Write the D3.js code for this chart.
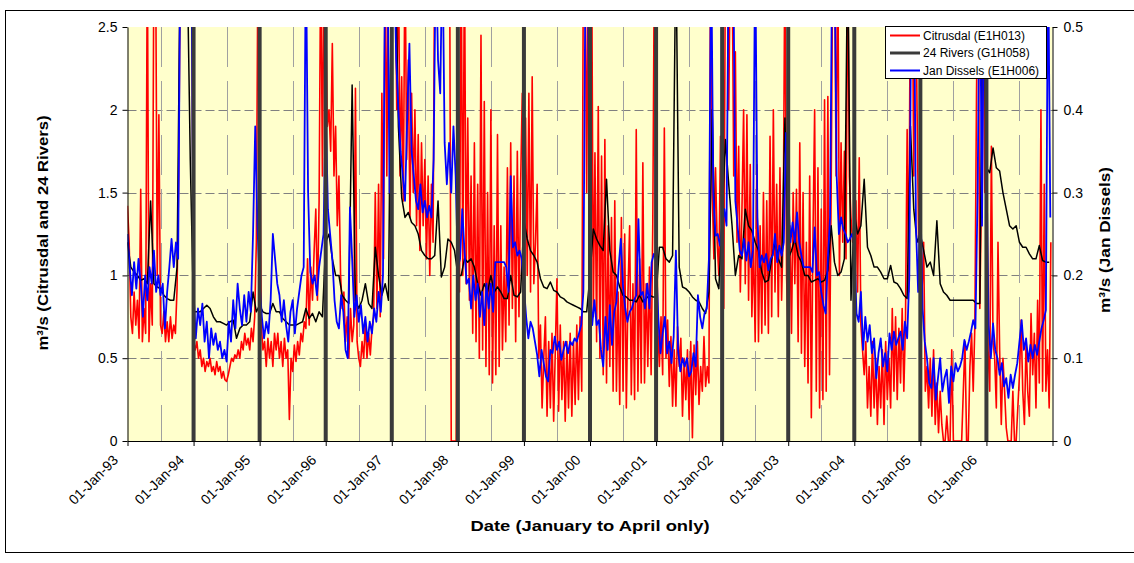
<!DOCTYPE html>
<html><head><meta charset="utf-8">
<script src="https://cdn.jsdelivr.net/npm/d3@7"></script>
<style>
body{margin:0;background:#fff}
svg{display:block;font-family:"Liberation Sans",Arial,sans-serif}
</style>
</head><body>
<svg id="chart" width="1134" height="563"></svg>
<script>
// ---------- DATA ----------
const yearLabels = ["01-Jan-93","01-Jan-94","01-Jan-95","01-Jan-96","01-Jan-97","01-Jan-98","01-Jan-99",
  "01-Jan-00","01-Jan-01","01-Jan-02","01-Jan-03","01-Jan-04","01-Jan-05","01-Jan-06"];
const leftTicks = [0, 0.5, 1, 1.5, 2, 2.5];
const rightTicks = [0, 0.1, 0.2, 0.3, 0.4, 0.5];
const seriesNames = ["Citrusdal (E1H013)", "24 Rivers (G1H058)", "Jan Dissels (E1H006)"];

// Citrusdal (E1H013), m3/s, Jan-Apr of each year (left axis)
const citrusdal = [
 [1.42,1.2,0.75,0.65,0.9,0.7,0.85,0.62,1.52,0.6,0.8,0.65,3,0.6,0.95,0.7,3,3,1.0,1.97,0.7,0.65,0.78,0.6,0.72,0.6,0.75,0.62,0.7,0.65,0.92,1.6,3,3,3,3,3,3,3,2.8],
 [0.6,0.55,0.6,0.5,0.55,0.45,0.5,0.42,0.48,0.45,0.5,0.42,0.45,0.4,0.48,0.42,0.45,0.38,0.42,0.37,0.36,0.4,0.45,0.5,0.48,0.52,0.5,0.55,0.5,0.6,0.55,0.65,0.58,0.62,0.55,0.68,0.6,0.75,1.2,3],
 [2.0,0.7,0.55,0.6,0.45,0.62,0.5,0.6,0.45,0.65,0.55,0.65,0.5,0.6,0.45,0.62,0.5,0.55,0.13,0.5,0.42,0.58,0.48,0.6,0.52,0.65,0.6,0.72,0.68,1.1,0.7,1.05,0.85,1.15,1.4,0.85,1.45,3,1.6,3],
 [2.6,1.9,2.0,1.75,2.4,1.6,1.9,1.3,1.6,1.0,0.8,0.9,0.6,0.75,0.5,0.8,0.6,0.7,2.13,0.6,0.5,0.45,0.6,0.5,0.72,0.5,0.65,0.52,0.68,0.75,1.5,0.8,1.55,0.75,2.1,1.1,3,1.6,3,3],
 [3,3,3,2.0,3,1.6,2.2,1.45,3,1.7,2.3,1.35,2.1,1.5,2.0,1.3,1.85,1.15,1.8,1.3,1.7,1.1,1.6,1.0,1.55,1.2,3,3,3,3,3,3,3,3,3,3,0,0,0,0],
 [3,0.9,3,1.0,3,0.95,1.95,0.85,1.6,0.65,1.8,0.6,1.55,0.5,2.45,0.55,2.05,0.45,1.5,0.4,2.0,0.35,1.3,0.4,1.85,0.45,1.3,0.55,1.05,0.6,1.65,0.7,1.8,0.8,1.6,0.6,1.75,0.75,1.55,2.1],
 [1.4,1.95,1.0,2.1,0.9,2.2,0.95,1.2,1.55,0.5,0.7,0.2,0.5,0.75,0.15,0.6,0.2,0.65,0.12,0.55,0.98,0.18,0.7,0.25,0.6,0.12,0.6,0.2,0.65,0.15,0.6,0.22,0.7,0.25,0.75,0.3,3,3,1.5,3],
 [1.5,3,0.75,1.74,0.6,2.02,0.5,1.72,0.4,1.82,0.35,1.3,0.45,1.35,0.3,1.45,0.3,0.9,0.22,1.35,0.3,1.25,0.2,0.9,1.3,0.28,0.95,0.25,1.88,0.3,1.1,0.35,1.68,0.35,0.95,0.45,1.05,0.4,1.3,3],
 [2.0,0.7,0.45,0.75,0.4,1.89,0.5,0.73,0.33,0.63,0.21,0.55,0.21,0.69,0.45,0.62,0.15,0.5,0.25,0.55,0.13,0.6,0.02,0.58,0.28,0.6,0.22,0.45,0.3,0.63,0.33,0.45,0.35,3,1.5,1.1,1.65,1.2,1.0,1.84],
 [1.2,0.8,3,3,2.0,3,3,1.6,2.35,1.2,1.78,0.9,1.4,2.0,0.95,1.97,0.85,1.67,0.75,1.2,0.6,1.67,0.6,1.3,0.65,1.5,0.7,1.45,0.65,1.84,0.75,2.0,0.9,1.55,0.75,1.65,0.85,1.3,3,1.0],
 [0.6,1.3,0.65,1.5,0.95,1.52,0.6,1.8,0.53,1.5,0.45,1.2,0.35,1.6,0.14,1.25,2.0,0.3,1.65,0.2,1.4,0.25,2.06,0.3,2.08,0.4,1.5,3,3,1.6,3,1.0,1.8,1.2,1.75,1.1,3,1.6,1.35,1.2],
 [1.2,1.45,0.9,1.71,0.7,0.55,0.4,0.6,0.2,0.45,0.15,0.6,0.2,0.5,0.1,0.45,0.2,0.55,0.1,0.6,0.25,0.5,0.2,0.8,0.3,0.75,0.25,0.68,0.35,0.8,0.3,0.72,1.88,0.9,3,3,1.6,3,2.0,1.2],
 [1.2,0.9,1.2,0.3,0.45,0.2,0.5,0.15,0.55,0.1,0.35,0.05,0.3,0.1,0,0,0.15,0,0,0.55,0,0,0,0,0,0,0.3,0.6,0,0,0.45,0.65,0.3,0.7,2.1,3,0.8,1.5,3,1.5],
 [1.8,0.55,0.3,1.78,0.6,0.5,0.2,1.2,0.55,0.1,0.5,0.3,0.08,0,0,0,0.3,0,0,0.2,0.4,0.73,0.3,0.1,0.6,0.3,0.15,0.77,0.4,0.65,0.2,0.85,0.35,2.0,0.3,1.55,0.3,0.55,0.2,1.2]
];

// 24 Rivers (G1H058), m3/s (left axis)
const rivers24 = [
 [1.2,1.05,1.02,1.0,0.97,0.98,0.95,1.45,0.95,0.93,0.92,0.88,0.86,0.85,0.85,1.05,3,3,3,1.7],
 [0.78,0.78,0.78,0.8,0.82,0.8,0.75,0.72,0.72,0.71,0.7,0.72,0.73,0.62,0.68,0.7,0.7,0.72,0.9,0.78],
 [0.82,0.78,0.77,0.77,0.83,0.78,0.78,0.74,0.72,0.7,0.7,0.7,0.71,0.72,0.8,0.74,0.77,0.72,0.78,0.75],
 [1.2,1.25,1.1,1.0,1.0,0.88,0.85,0.83,2.15,0.85,0.8,0.85,0.95,0.83,0.8,1.17,1.0,0.88,0.95,0.85],
 [3,3,1.9,1.47,1.35,1.38,1.32,1.3,1.25,1.15,1.12,1.1,1.1,1.12,1.45,0.99,1.05,1.22,1.2,1.15],
 [1.0,1.0,1.1,1.08,1.1,1.05,0.95,0.88,0.95,0.9,1.0,0.9,0.93,0.9,0.86,0.86,1.0,0.88,0.87,0.9],
 [1.33,1.22,1.15,1.12,1.08,0.98,0.93,0.92,0.96,0.91,0.9,0.87,0.86,0.84,0.83,0.82,0.81,0.8,0.78,0.78],
 [1.0,1.28,1.22,1.18,1.15,1.58,1.15,1.02,1.0,0.93,0.88,0.87,0.85,0.85,0.84,0.88,0.84,0.86,0.88,0.87],
 [0.87,1.17,1.17,1.1,1.08,1.12,3,1.05,0.93,0.92,0.9,0.87,0.85,0.84,0.8,0.77,0.9,2.0,0.98,0.92],
 [1.35,1.82,1.55,1.3,1.0,1.12,1.1,1.4,1.3,1.27,1.2,1.15,1.02,0.96,0.97,1.1,1.2,1.1,1.05,1.95],
 [1.1,1.15,1.22,1.12,1.08,1.0,1.0,0.96,0.97,0.98,0.96,0.97,1.03,1.3,1.08,1.0,1.02,1.1,3,0.85],
 [1.38,1.25,1.3,1.58,1.17,1.12,1.05,1.05,1.02,0.98,0.98,1.06,0.96,0.95,0.92,0.88,0.86,1.9,1.4,1.2],
 [1.25,1.15,1.05,1.08,1.0,1.33,0.95,0.9,0.88,0.85,0.85,0.85,0.85,0.85,0.85,0.85,0.85,0.83,0.83,3],
 [1.65,1.62,1.77,1.65,1.63,1.5,1.4,1.3,1.28,1.3,1.2,1.17,1.17,1.13,1.1,1.1,1.18,1.09,1.08,1.08]
];

// Jan Dissels (E1H006), m3/s (right axis)
const janDissels = [
 [0.25,0.21,0.176,0.216,0.184,0.22,0.19,0.15,0.2,0.17,0.21,0.19,0.23,0.18,0.2,0.176,0.19,0.136,0.18,0.21,0.244,0.21,0.24,0.22,0.6,0.6,0.6,0.6,0.6,0.6],
 [0.18,0.124,0.16,0.14,0.166,0.12,0.144,0.1,0.136,0.116,0.13,0.11,0.12,0.1,0.11,0.096,0.144,0.12,0.17,0.136,0.19,0.16,0.14,0.176,0.144,0.18,0.156,0.25,0.38,0.26],
 [0.19,0.15,0.124,0.144,0.13,0.17,0.25,0.22,0.19,0.176,0.144,0.17,0.14,0.12,0.156,0.17,0.13,0.16,0.18,0.2,0.21,0.6,0.3,0.204,0.19,0.2,0.176,0.21,0.23,0.25],
 [0.4,0.28,0.25,0.22,0.17,0.144,0.136,0.176,0.156,0.11,0.1,0.282,0.22,0.15,0.176,0.144,0.164,0.13,0.15,0.12,0.144,0.13,0.16,0.144,0.18,0.156,0.2,0.6,0.6,0.3],
 [0.6,0.6,0.46,0.4,0.35,0.32,0.29,0.39,0.48,0.35,0.32,0.29,0.28,0.31,0.276,0.29,0.27,0.284,0.27,0.34,0.6,0.46,0.42,0.6,0.36,0.31,0.36,0.3,0.38,0.32],
 [0.21,0.22,0.28,0.23,0.19,0.196,0.16,0.2,0.17,0.19,0.15,0.18,0.14,0.19,0.16,0.19,0.156,0.216,0.216,0.216,0.216,0.216,0.21,0.18,0.32,0.234,0.24,0.224,0.23,0.22],
 [0.186,0.15,0.124,0.144,0.136,0.12,0.104,0.078,0.11,0.094,0.078,0.072,0.11,0.106,0.126,0.11,0.12,0.098,0.11,0.12,0.106,0.12,0.116,0.124,0.12,0.13,0.14,0.18,0.6,0.6],
 [0.19,0.14,0.17,0.14,0.146,0.11,0.09,0.15,0.11,0.164,0.116,0.156,0.168,0.21,0.244,0.186,0.16,0.144,0.156,0.16,0.17,0.176,0.268,0.176,0.18,0.16,0.19,0.16,0.216,0.226],
 [0.22,0.15,0.106,0.13,0.15,0.106,0.12,0.094,0.126,0.23,0.11,0.084,0.1,0.09,0.1,0.078,0.084,0.106,0.09,0.176,0.15,0.136,0.154,0.16,0.22,0.6,0.3,0.248,0.25,0.236],
 [0.26,0.28,0.26,0.6,0.6,0.6,0.29,0.26,0.23,0.224,0.244,0.218,0.24,0.21,0.23,0.6,0.27,0.21,0.224,0.216,0.226,0.206,0.22,0.224,0.25,0.216,0.236,0.224,0.24,0.372],
 [0.3,0.24,0.264,0.24,0.276,0.24,0.224,0.21,0.21,0.21,0.21,0.204,0.258,0.2,0.204,0.18,0.164,0.154,0.22,0.27,0.6,0.6,0.32,0.25,0.27,0.256,0.25,0.24,0.244,0.25],
 [0.24,0.154,0.144,0.18,0.11,0.15,0.12,0.14,0.106,0.124,0.076,0.106,0.124,0.09,0.106,0.084,0.13,0.11,0.132,0.116,0.124,0.132,0.11,0.144,0.124,0.2,0.6,0.6,0.26,0.18],
 [0.3,0.16,0.12,0.1,0.07,0.064,0.1,0.05,0.076,0.1,0.06,0.076,0.086,0.046,0.09,0.072,0.094,0.084,0.09,0.1,0.122,0.11,0.12,0.132,0.146,0.136,0.3,0.6,0.26,0.6],
 [0.34,0.14,0.1,0.142,0.11,0.1,0.08,0.094,0.066,0.076,0.052,0.08,0.064,0.08,0.094,0.12,0.146,0.11,0.124,0.096,0.116,0.1,0.116,0.104,0.12,0.136,0.146,0.158,0.6,0.27]
];

// ---------- CHART ----------
const svg = d3.select("#chart");
const P = {l: 127.5, r: 1052.5, t: 27, b: 441};
const nYears = yearLabels.length;
const x = d3.scaleLinear().domain([0, nYears]).range([P.l, P.r]);
const yL = d3.scaleLinear().domain([0, 2.5]).range([P.b, P.t]);
const yR = d3.scaleLinear().domain([0, 0.5]).range([P.b, P.t]);

function flatten(arr) {
  const out = [];
  arr.forEach((yr, yi) => yr.forEach((v, i) => out.push({t: yi + i / yr.length, v})));
  return out;
}

// outer chart border
svg.append("rect").attr("x", 5.5).attr("y", 10.5).attr("width", 1140).attr("height", 542)
  .attr("fill", "#fff").attr("stroke", "#000").attr("stroke-width", 1);

// plot background
svg.append("rect").attr("x", P.l).attr("y", P.t).attr("width", P.r - P.l).attr("height", P.b - P.t)
  .attr("fill", "#ffffcc");

// gridlines
const grid = svg.append("g").attr("stroke-width", 1);
grid.selectAll("line.h").data(leftTicks.filter(d => d > 0 && d < 2.5)).join("line")
  .attr("stroke", "#808080").attr("stroke-dasharray", "9,4")
  .attr("x1", P.l).attr("x2", P.r).attr("y1", d => Math.round(yL(d)) + 0.5).attr("y2", d => Math.round(yL(d)) + 0.5);
grid.selectAll("line.v").data(d3.range(nYears).map(d => d + 0.5)).join("line")
  .attr("stroke", "#a0a0a0").attr("stroke-dasharray", "40,14")
  .attr("y1", P.t).attr("y2", P.b).attr("x1", d => Math.round(x(d)) + 0.5).attr("x2", d => Math.round(x(d)) + 0.5);

// clip
svg.append("defs").append("clipPath").attr("id", "clip").append("rect")
  .attr("x", P.l).attr("y", P.t).attr("width", P.r - P.l).attr("height", P.b - P.t);
const plot = svg.append("g").attr("clip-path", "url(#clip)");

const lineL = d3.line().x(d => x(d.t)).y(d => yL(d.v));
const lineR = d3.line().x(d => x(d.t)).y(d => yR(d.v));
plot.append("path").datum(flatten(citrusdal)).attr("d", lineL)
  .attr("fill", "none").attr("stroke", "#ff0000").attr("stroke-width", 1.6).attr("stroke-linejoin", "round");
plot.append("path").datum(flatten(rivers24)).attr("d", lineL)
  .attr("fill", "none").attr("stroke", "#000000").attr("stroke-width", 1.5).attr("stroke-linejoin", "round");
plot.append("path").datum(flatten(janDissels)).attr("d", lineR)
  .attr("fill", "none").attr("stroke", "#0000ff").attr("stroke-width", 1.8).attr("stroke-linejoin", "round");

// year separators
svg.append("g").selectAll("line").data(d3.range(1, nYears)).join("line")
  .attr("x1", d => x(d)).attr("x2", d => x(d)).attr("y1", P.t).attr("y2", P.b)
  .attr("stroke", "#3a3a3a").attr("stroke-width", 4);

// axes
const axL = svg.append("g").attr("transform", `translate(${P.l},0)`)
  .call(d3.axisLeft(yL).tickValues(leftTicks).tickSize(5).tickSizeOuter(0).tickPadding(5).tickFormat(d3.format("~g")));
const axR = svg.append("g").attr("transform", `translate(${P.r},0)`)
  .call(d3.axisRight(yR).tickValues(rightTicks).tickSize(5).tickSizeOuter(0).tickPadding(6).tickFormat(d3.format("~g")));
const axB = svg.append("g").attr("transform", `translate(0,${P.b})`)
  .call(d3.axisBottom(x).tickValues(d3.range(0, nYears + 1)).tickSize(5).tickSizeOuter(0)
    .tickFormat(d => d < nYears ? yearLabels[d] : ""));
[axL, axR, axB].forEach(a => {
  a.selectAll("text").attr("font-family", "Liberation Sans, Arial, sans-serif").attr("font-size", 14).attr("fill", "#000");
  a.selectAll("line,path").attr("stroke", "#000");
});
axB.selectAll("text").attr("x", 0).attr("y", 0).attr("dy", 0).attr("text-anchor", "end")
  .attr("transform", "translate(-9,20) rotate(-45)");

// axis titles
svg.append("text").attr("transform", "translate(48,233) rotate(-90)").attr("text-anchor", "middle")
  .attr("font-weight", "bold").attr("font-size", 15.5).attr("textLength", 235).attr("lengthAdjust", "spacingAndGlyphs")
  .text("m³/s (Citrusdal and 24 Rivers)");
svg.append("text").attr("transform", "translate(1110,240) rotate(-90)").attr("text-anchor", "middle")
  .attr("font-weight", "bold").attr("font-size", 15.5).attr("textLength", 146).attr("lengthAdjust", "spacingAndGlyphs")
  .text("m³/s (Jan Dissels)");
svg.append("text").attr("x", 590).attr("y", 531).attr("text-anchor", "middle")
  .attr("font-weight", "bold").attr("font-size", 15.5).attr("textLength", 239).attr("lengthAdjust", "spacingAndGlyphs")
  .text("Date (January to April only)");

// legend
const lg = svg.append("g");
lg.append("rect").attr("x", 885.5).attr("y", 26.5).attr("width", 161).attr("height", 52)
  .attr("fill", "#fff").attr("stroke", "#000");
const lgColors = ["#ff0000", "#3a3a3a", "#0000ff"];
const lgWidths = [2, 3, 2];
seriesNames.forEach((nm, i) => {
  const yy = 35.5 + i * 17.5;
  lg.append("line").attr("x1", 890).attr("x2", 920).attr("y1", yy).attr("y2", yy)
    .attr("stroke", lgColors[i]).attr("stroke-width", lgWidths[i]);
  lg.append("text").attr("x", 923).attr("y", yy + 4.2).attr("font-size", 12).text(nm);
});
</script>
</body></html>
